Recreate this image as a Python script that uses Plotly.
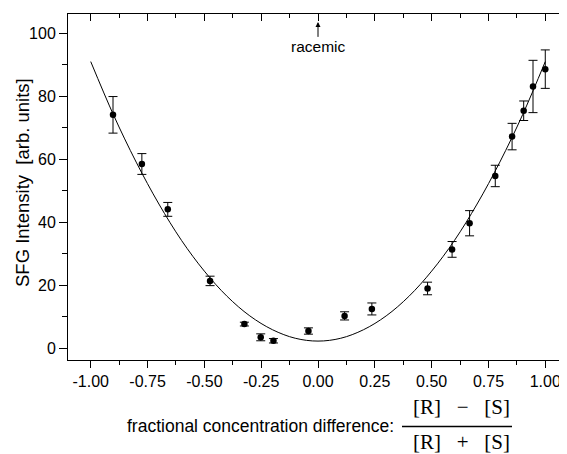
import plotly.graph_objects as go

# measured data
x_data = [-0.902, -0.775, -0.661, -0.475, -0.324, -0.252, -0.196, -0.042, 0.117, 0.237,
          0.482, 0.590, 0.667, 0.780, 0.854, 0.905, 0.946, 1.000]
y_data = [74.1, 58.5, 44.1, 21.4, 7.7, 3.5, 2.4, 5.5, 10.3, 12.5,
          19.0, 31.4, 39.7, 54.7, 67.2, 75.4, 83.1, 88.6]
y_err = [5.8, 3.3, 2.2, 1.5, 0.6, 1.1, 0.7, 1.0, 1.3, 1.9,
         2.0, 2.5, 4.0, 3.4, 4.2, 3.1, 8.3, 6.1]

# fit curve, values
x_fit = [-1.0, -0.9, -0.8, -0.7, -0.6, -0.5, -0.4, -0.3, -0.2, -0.1, 0.0,
         0.1, 0.2, 0.3, 0.4, 0.5, 0.6, 0.7, 0.8, 0.9, 1.0]
y_fit = [91.0, 74.1, 59.1, 45.8, 34.2, 24.5, 16.5, 10.3, 5.9, 3.2, 2.3,
         3.2, 5.9, 10.3, 16.5, 24.5, 34.2, 45.8, 59.1, 74.1, 91.0]

x_ticks = [-1.0, -0.75, -0.5, -0.25, 0.0, 0.25, 0.5, 0.75, 1.0]
x_ticklabels = ["-1.00", "-0.75", "-0.50", "-0.25", "0.00", "0.25", "0.50", "0.75", "1.00"]
y_ticks = [0, 20, 40, 60, 80, 100]

XR = [-1.1, 1.1]
YR = [-3.7, 106.1]
FONT = "Liberation Sans, Arial, sans-serif"
SERIF = "Liberation Serif, Times New Roman, serif"

fig = go.Figure()
fig.add_trace(go.Scatter(x=x_fit, y=y_fit, mode="lines", line=dict(color="black", width=1, shape="spline"),
                         hoverinfo="skip", showlegend=False))
fig.add_trace(go.Scatter(x=x_data, y=y_data, mode="markers",
                         marker=dict(color="black", size=6.5),
                         error_y=dict(type="data", array=y_err, visible=True, color="black",
                                      thickness=1, width=4.5),
                         showlegend=False))
# invisible trace for mirrored axes
fig.add_trace(go.Scatter(x=[0], y=[0], xaxis="x2", yaxis="y2", mode="markers",
                         marker=dict(opacity=0), hoverinfo="skip", showlegend=False))

common = dict(showgrid=False, zeroline=False, showline=True, linecolor="black", linewidth=1,
              tickcolor="black", tickwidth=1)

# page body has an 8px margin; figure is placed at (8, 8) in the window
fig.update_layout(
    width=561, height=446,
    margin=dict(l=60, r=1, t=6, b=94, autoexpand=False),
    plot_bgcolor="white", paper_bgcolor="white",
    font=dict(family=FONT, size=16, color="black"),
    xaxis=dict(range=XR, tickmode="array", tickvals=x_ticks, ticktext=x_ticklabels,
               ticks="outside", ticklen=7,
               minor=dict(tickmode="linear", tick0=-1.125, dtick=0.25, ticks="outside", ticklen=4,
                          tickcolor="black"),
               tickfont=dict(size=16), **common),
    yaxis=dict(range=YR, tickvals=y_ticks, ticks="outside", ticklen=8,
               minor=dict(tickmode="linear", tick0=10, dtick=20, ticks="outside", ticklen=5,
                          tickcolor="black"),
               tickfont=dict(size=16), **common),
    xaxis2=dict(range=XR, overlaying="x", side="top", tickvals=x_ticks, showticklabels=False,
                ticks="inside", ticklen=7,
                minor=dict(tickmode="linear", tick0=-1.125, dtick=0.25, ticks="inside", ticklen=4,
                           tickcolor="black"),
                **common),
    yaxis2=dict(range=YR, overlaying="y", side="right", tickvals=y_ticks, showticklabels=False,
                ticks="inside", ticklen=8,
                minor=dict(tickmode="linear", tick0=10, dtick=20, ticks="inside", ticklen=5,
                           tickcolor="black"),
                **common),
)

# helpers: window pixel -> paper coords (plot area spans window x 68..568, y 14..360)
def px_x(px):
    return (px - 68) / 500.0

def px_y(py):
    return (360 - py) / 346.0

# y axis title
fig.add_annotation(x=px_x(22), y=px_y(183), xref="paper", yref="paper", xanchor="center",
                   yanchor="middle", textangle=-90, text="SFG Intensity  [arb. units]",
                   showarrow=False, font=dict(size=18.5, family=FONT))

# racemic marker
fig.add_annotation(x=0.0, y=103.6, xref="x", yref="y", text="racemic", showarrow=True,
                   ax=0, ay=25, arrowhead=2, arrowsize=1, arrowwidth=1, arrowcolor="black",
                   font=dict(size=15.5, family=FONT))

# x axis title with fraction
fig.add_annotation(x=px_x(396), y=px_y(426), xref="paper", yref="paper", xanchor="right",
                   yanchor="middle", text="fractional concentration difference:", showarrow=False,
                   font=dict(size=17.5, family=FONT))
sp = "\u00a0\u00a0\u00a0"
fig.add_annotation(x=px_x(461), y=px_y(407), xref="paper", yref="paper", xanchor="center",
                   yanchor="middle", text="[R]" + sp + "−" + sp + "[S]", showarrow=False,
                   font=dict(size=21, family=SERIF))
fig.add_annotation(x=px_x(461), y=px_y(442), xref="paper", yref="paper", xanchor="center",
                   yanchor="middle", text="[R]" + sp + "+" + sp + "[S]", showarrow=False,
                   font=dict(size=21, family=SERIF))
fig.add_shape(type="line", xref="paper", yref="paper", x0=px_x(402), x1=px_x(512),
              y0=px_y(426.5), y1=px_y(426.5), line=dict(color="black", width=1.5))

fig.write_html("out.html")
